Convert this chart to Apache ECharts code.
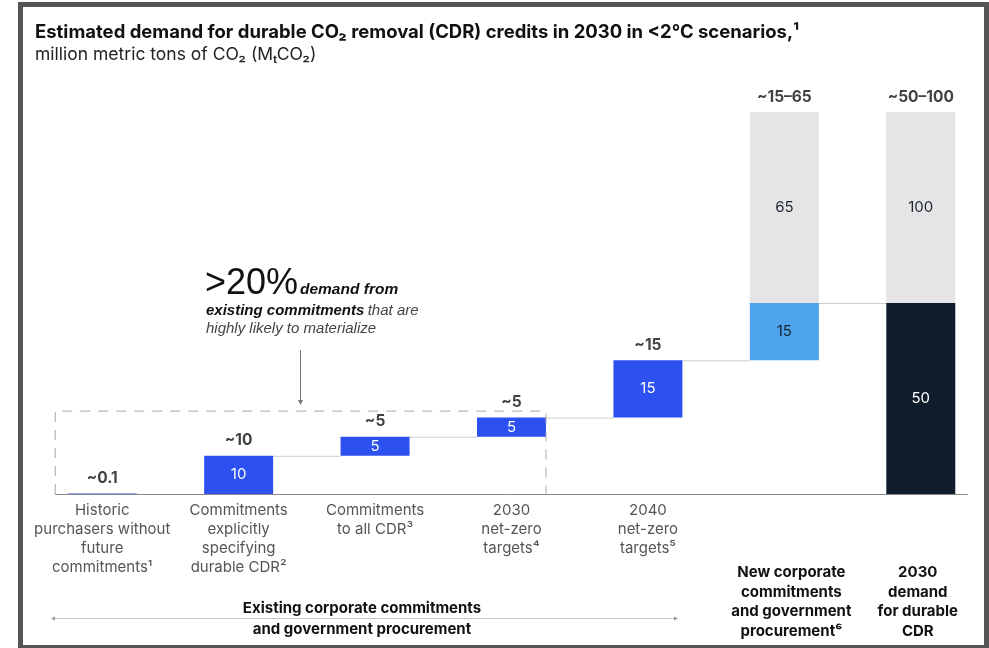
<!DOCTYPE html>
<html>
<head>
<meta charset="utf-8">
<script src="https://cdn.jsdelivr.net/npm/echarts@6/dist/echarts.min.js"></script>
<style>
html,body{margin:0;padding:0;background:#fff;}
#c{width:989px;height:648px;}
</style>
</head>
<body>
<div id="c"></div>
<script>
// ---- data ----
const categories = [
  'Historic\npurchasers without\nfuture\ncommitments¹',
  'Commitments\nexplicitly\nspecifying\ndurable CDR²',
  'Commitments\nto all CDR³',
  '2030\nnet-zero\ntargets⁴',
  '2040\nnet-zero\ntargets⁵',
  'New corporate\ncommitments\nand government\nprocurement⁶',
  '2030\ndemand\nfor durable\nCDR'
];
const boldCategoryIdx = [5, 6];
const baseValues     = [0, 0, 10, 15, 20, 35, 0];
const existingValues = [0.1, 10, 5, 5, 15, null, null];
const newValues      = [null, null, null, null, null, 15, null];
const totalValues    = [null, null, null, null, null, null, 50];
const rangeValues    = [null, null, null, null, null, 50, 50];
const rangeLabels    = ['', '', '', '', '', '65', '100'];
const existingLabels = ['', '10', '5', '5', '15', '', ''];
const topLabels      = ['~0.1', '~10', '~5', '~5', '~15', '~15–65', '~50–100'];
const connectors     = [[1, 10], [2, 15], [3, 20], [4, 35], [5, 50]];
const boxTopValue    = 21.7;
const groupLabel     = 'Existing corporate commitments\nand government procurement';
const titleText      = 'Estimated demand for durable CO₂ removal (CDR) credits in 2030 in <2°C scenarios,¹';
const subtitleText   = 'million metric tons of CO₂ (MₜCO₂)';

const FONT = 'Inter, "Liberation Sans", Arial, sans-serif';
const FONT2 = '"Liberation Sans", Arial, Helvetica, sans-serif';
const BAR_W = 69;

const tops = baseValues.map((b, i) =>
  b + (existingValues[i] || 0) + (newValues[i] || 0) + (totalValues[i] || 0) + (rangeValues[i] || 0));

const chart = echarts.init(document.getElementById('c'), null, {renderer: 'canvas'});

chart.setOption({
  animation: false,
  backgroundColor: '#ffffff',
  textStyle: {fontFamily: FONT},
  title: [
    {text: titleText, left: 30, top: 18,
     textStyle: {fontFamily: FONT, fontSize: 18.5, fontWeight: 'bold', color: '#111'}},
    {text: subtitleText, left: 30, top: 41,
     textStyle: {fontFamily: FONT, fontSize: 17.5, fontWeight: 'normal', color: '#222'}}
  ],
  grid: {left: 34, right: 0, top: 112, bottom: 154},
  xAxis: {
    type: 'category',
    data: categories,
    axisLine: {show: false},
    axisTick: {show: false},
    axisLabel: {
      interval: 0,
      margin: 7,
      color: '#555',
      fontSize: 15,
      lineHeight: 19,
      fontFamily: FONT,
      formatter: (v, i) => boldCategoryIdx.includes(i) ? '' : v
    }
  },
  yAxis: {type: 'value', min: 0, max: 100, show: false, splitLine: {show: false}},
  series: [
    {
      type: 'bar', stack: 'w', data: baseValues, barWidth: BAR_W,
      itemStyle: {color: 'transparent'}, silent: true
    },
    {
      type: 'bar', stack: 'w', data: existingValues, barWidth: BAR_W,
      itemStyle: {color: '#2d50f1'},
      label: {show: true, position: 'inside', color: '#fff', fontSize: 15, fontFamily: FONT,
              formatter: p => existingLabels[p.dataIndex]}
    },
    {
      type: 'bar', stack: 'w', data: newValues, barWidth: BAR_W,
      itemStyle: {color: '#4ea4ec'},
      label: {show: true, position: 'inside', color: '#1a2230', fontSize: 15, fontFamily: FONT,
              formatter: p => String(p.value)}
    },
    {
      type: 'bar', stack: 'w', data: totalValues, barWidth: BAR_W,
      itemStyle: {color: '#0f1c2b'},
      label: {show: true, position: 'inside', color: '#fff', fontSize: 15, fontFamily: FONT,
              formatter: p => String(p.value)}
    },
    {
      type: 'bar', stack: 'w', data: rangeValues, barWidth: BAR_W,
      itemStyle: {color: '#e5e5e5'},
      label: {show: true, position: 'inside', color: '#1e2633', fontSize: 15, fontFamily: FONT,
              formatter: p => rangeLabels[p.dataIndex]}
    },
    {
      type: 'scatter', data: tops, symbolSize: 0, silent: true,
      label: {show: true, position: 'top', distance: 7, color: '#111', fontWeight: 'bold',
              fontSize: 15.5, fontFamily: FONT, formatter: p => topLabels[p.dataIndex]}
    },
    {
      type: 'custom', data: connectors, silent: true, z: 1,
      renderItem: (params, api) => {
        const pt = api.coord([api.value(0), api.value(1)]);
        const bw = api.size([1, 0])[0];
        return {
          type: 'line',
          shape: {x1: pt[0] + BAR_W / 2, y1: pt[1] + 0.5, x2: pt[0] + bw - BAR_W / 2, y2: pt[1] + 0.5},
          style: {stroke: '#cfcfcf', lineWidth: 1}
        };
      }
    }
  ]
});

// ---- annotations positioned from the chart's own scales ----
const px = (i, v) => chart.convertToPixel({gridIndex: 0}, [i, v]);
const base = px(0, 0);
const y0 = base[1];
const boxTop = px(0, boxTopValue)[1];
const boxLeft = px(0, 0)[0] - 47;
const boxRight = px(3, 0)[0] + BAR_W / 2;
const axisLeft = boxLeft;
const axisRight = px(6, 0)[0] + 47;

const graphics = [
  // frame
  {type: 'rect', shape: {x: 20.5, y: 4.5, width: 966, height: 643},
   style: {fill: 'none', stroke: '#555', lineWidth: 5}, z: 100},
  // baseline
  {type: 'line', shape: {x1: axisLeft, y1: y0 + 0.5, x2: axisRight, y2: y0 + 0.5},
   style: {stroke: '#8a8a8a', lineWidth: 1}, z: 50},
  // dashed box
  {type: 'polyline', shape: {points: [[boxLeft, y0], [boxLeft, boxTop], [boxRight, boxTop], [boxRight, y0]]},
   style: {stroke: '#a8a8a8', lineWidth: 1, lineDash: [10, 8], fill: 'none'}, z: 40},
  // arrow
  {type: 'line', shape: {x1: 300.5, y1: 350, x2: 300.5, y2: 402},
   style: {stroke: '#777', lineWidth: 1}},
  {type: 'polygon', shape: {points: [[298, 400], [303, 400], [300.5, 405]]},
   style: {fill: '#777'}},
  // >20% annotation
  {type: 'text', x: 205, y: 266,
   style: {text: '>20%', font: '300 36px ' + FONT2, fill: '#111'}},
  {type: 'text', x: 300, y: 282,
   style: {text: 'demand from', font: 'italic bold 15.5px ' + FONT2, fill: '#111'}},
  {type: 'text', x: 206, y: 303,
   style: {text: '{b|existing commitments} {i|that are}',
           rich: {b: {font: 'italic bold 15px ' + FONT2, fill: '#111'},
                  i: {font: 'italic 15px ' + FONT2, fill: '#444'}}}},
  {type: 'text', x: 206, y: 321,
   style: {text: 'highly likely to materialize', font: 'italic 15px ' + FONT2, fill: '#444'}},
  // bottom bracket
  {type: 'line', shape: {x1: 53, y1: 618.5, x2: 676, y2: 618.5},
   style: {stroke: '#c8c8c8', lineWidth: 1}},
  {type: 'polygon', shape: {points: [[51, 618.5], [55, 616.5], [55, 620.5]]}, style: {fill: '#999'}},
  {type: 'polygon', shape: {points: [[678, 618.5], [674, 616.5], [674, 620.5]]}, style: {fill: '#999'}},
  {type: 'text', x: 362, y: 598,
   style: {text: groupLabel, font: 'bold 15px ' + FONT, fill: '#111', align: 'center',
           lineHeight: 21}}
];
boldCategoryIdx.forEach(i => {
  graphics.push({
    type: 'text', x: px(i, 0)[0] + (i === 5 ? 7 : -3), y: 563,
    style: {text: categories[i], font: 'bold 15px ' + FONT, fill: '#111', align: 'center', lineHeight: 19.5}
  });
});
chart.setOption({graphic: graphics});
</script>
</body>
</html>
